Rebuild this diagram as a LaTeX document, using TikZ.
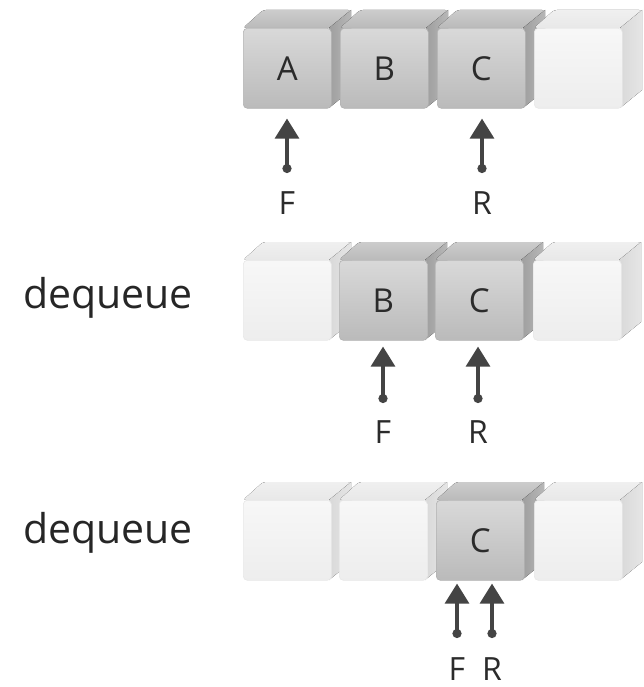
\documentclass[tikz,border=0pt]{standalone}
\usepackage{fontspec}
\setmainfont{Open Sans}
\usetikzlibrary{arrows.meta,calc}
\definecolor{ink}{HTML}{2B2B2B}
\definecolor{arr}{HTML}{444444}
\tikzset{
  fulltop/.style={top color=black!20, bottom color=black!27},
  fullside/.style={left color=black!38, right color=black!28},
  fullfront/.style={top color=black!15, bottom color=black!27, draw=black!30, line width=0.6pt, rounded corners=4pt},
  emptytop/.style={top color=black!6, bottom color=black!9},
  emptyside/.style={left color=black!15, right color=black!10},
  emptyfront/.style={top color=black!3, bottom color=black!7, draw=black!9, line width=0.6pt, rounded corners=4pt},
  letter/.style={text=ink, font=\fontsize{33}{33}\selectfont, inner sep=0pt},
  plabel/.style={text=ink, font=\fontsize{32}{32}\selectfont, inner sep=0pt},
  optext/.style={text=black!85, font=\fontsize{41}{41}\selectfont, inner sep=0pt, anchor=base west},
  ptr/.style={draw=arr, line width=3.2pt, {Circle[length=9pt]}-{Triangle[length=20pt,width=24pt]}},
}
\newcommand{\cube}[5]{%
  \fill[#4top, rounded corners=3pt] (#2,#3+18) -- (#2+20,#3) -- (#2+108,#3) -- (#2+88,#3+18) -- cycle;
  \fill[#4side] (#2+86,#3+18) -- (#2+108,#3) -- (#2+108,#3+80) -- (#2+86,#3+98) -- cycle;
  \node[#4front, minimum width=88pt, minimum height=80pt, anchor=north west, letter] (#1) at (#2,#3+18) {#5};
}
\begin{document}
\begin{tikzpicture}[x=1pt,y=-1pt]
\useasboundingbox (0,0) rectangle (643,687);
% row 1
\cube{a1}{243}{10}{full}{A}
\cube{b1}{340}{10}{full}{B}
\cube{c1}{437}{10}{full}{C}
\cube{d1}{534}{10}{empty}{}
\node[plabel] (F1) at (287,203) {F};
\node[plabel] (R1) at (482,203) {R};
\coordinate (f1) at (287,173);
\coordinate (r1) at (482,173);
\draw[ptr, shorten >=10pt] (f1) -- (f1 |- a1.south);
\draw[ptr, shorten >=10pt] (r1) -- (r1 |- c1.south);
% row 2
\node[optext] (deq2) at (23,308) {dequeue};
\cube{a2}{243}{242}{empty}{}
\cube{b2}{339}{242}{full}{B}
\cube{c2}{435}{242}{full}{C}
\cube{d2}{533}{242}{empty}{}
\node[plabel] (F2) at (383,432) {F};
\node[plabel] (R2) at (478,432) {R};
\coordinate (f2) at (383,403);
\coordinate (r2) at (478,403);
\draw[ptr, shorten >=6pt] (f2) -- (f2 |- b2.south);
\draw[ptr, shorten >=6pt] (r2) -- (r2 |- c2.south);
% row 3
\node[optext] (deq3) at (23,543) {dequeue};
\cube{a3}{243}{482}{empty}{}
\cube{b3}{339}{482}{empty}{}
\cube{c3}{436}{482}{full}{C}
\cube{d3}{534}{482}{empty}{}
\node[plabel] (F3) at (457,669) {F};
\node[plabel] (R3) at (492,669) {R};
\coordinate (f3) at (457,638);
\coordinate (r3) at (492,638);
\draw[ptr, shorten >=3pt] (f3) -- (f3 |- c3.south);
\draw[ptr, shorten >=3pt] (r3) -- (r3 |- c3.south);
\end{tikzpicture}
\end{document}
